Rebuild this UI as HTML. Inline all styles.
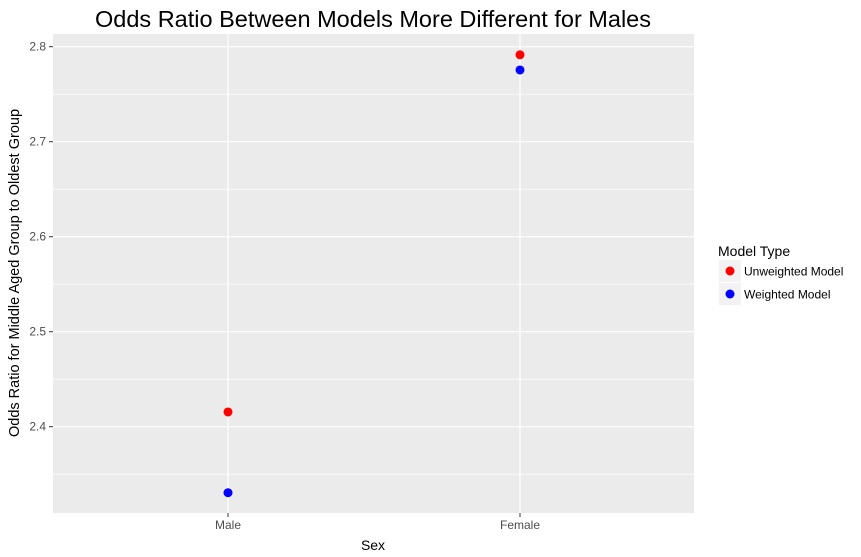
<!DOCTYPE html>
<html><head><meta charset="utf-8"><style>
body{margin:0;background:#fff}
svg{display:block;font-family:"Liberation Sans",Arial,sans-serif}
</style></head><body>
<svg id="c" width="861" height="557" xmlns="http://www.w3.org/2000/svg"></svg>
<script>
const categories=["Male","Female"];
const unweighted=[2.4155,2.7915];
const weighted=[2.3305,2.7755];
const yTicks=[2.4,2.5,2.6,2.7,2.8];
const seriesNames=["Unweighted Model","Weighted Model"];
const seriesColors=["#ff0000","#0000ff"];

const svg=document.getElementById('c');
const NS="http://www.w3.org/2000/svg";
const L=53,R=694,T=34,B=513;
const y=v=>426.7-(v-2.4)*950;
const x=i=>228+i*292;
function el(t,a,p){const e=document.createElementNS(NS,t);for(const k in a)e.setAttribute(k,a[k]);(p||svg).appendChild(e);return e;}

const panel=el('rect',{x:L,y:T,width:R-L,height:B-T,fill:'#ebebeb'});


for(let i=0;i<yTicks.length;i++){
  const v=yTicks[i]+0.05;
  if(y(v)>T&&y(v)<B){const g=el('line',{x1:L,x2:R,y1:y(v),y2:y(v),stroke:'#fff','stroke-width':0.6});
  
  }
}
{const v=2.35;const g=el('line',{x1:L,x2:R,y1:y(v),y2:y(v),stroke:'#fff','stroke-width':0.6});

}
yTicks.forEach(v=>{
  const g=el('line',{x1:L,x2:R,y1:y(v),y2:y(v),stroke:'#fff','stroke-width':1.2});
  
  
  el('line',{x1:L-4,x2:L,y1:y(v),y2:y(v),stroke:'#333','stroke-width':1});
  const t=el('text',{x:L-7,y:y(v)+4,'text-anchor':'end','font-size':12,fill:'#4d4d4d'});
  t.textContent=v.toFixed(1);
  
  
});
categories.forEach((c,i)=>{
  const g=el('line',{x1:x(i),x2:x(i),y1:T,y2:B,stroke:'#fff','stroke-width':1.2});
  
  
  el('line',{x1:x(i),x2:x(i),y1:B,y2:B+4,stroke:'#333','stroke-width':1});
  const t=el('text',{x:x(i),y:B+16,'text-anchor':'middle','font-size':12,fill:'#4d4d4d'});
  t.textContent=c;
  
  
});
[unweighted,weighted].forEach((s,si)=>{
  s.forEach((v,i)=>{
    const p=el('circle',{cx:x(i),cy:y(v),r:4.5,fill:seriesColors[si]});
    
    
  });
});
let t=el('text',{x:373,y:27,'text-anchor':'middle','font-size':23.5,fill:'#000'});
t.textContent="Odds Ratio Between Models More Different for Males";


t=el('text',{x:373,y:550,'text-anchor':'middle','font-size':14,fill:'#000'});
t.textContent="Sex";


t=el('text',{x:0,y:0,'text-anchor':'middle','font-size':14.5,fill:'#000',transform:'translate(19,273) rotate(-90)'});
t.textContent="Odds Ratio for Middle Aged Group to Oldest Group";


t=el('text',{x:718,y:256,'font-size':14,fill:'#000'});
t.textContent="Model Type";


seriesNames.forEach((n,i)=>{
  const ky=260+i*23;
  const g=el('g',{});
  
  
  el('rect',{x:719,y:ky,width:22,height:22,fill:'#f2f2f2'},g);
  el('circle',{cx:730,cy:ky+11,r:4.5,fill:seriesColors[i]},g);
  const tt=el('text',{x:744,y:ky+15.5,'font-size':12,fill:'#000'},g);
  tt.textContent=n;
});
</script>
</body></html>
